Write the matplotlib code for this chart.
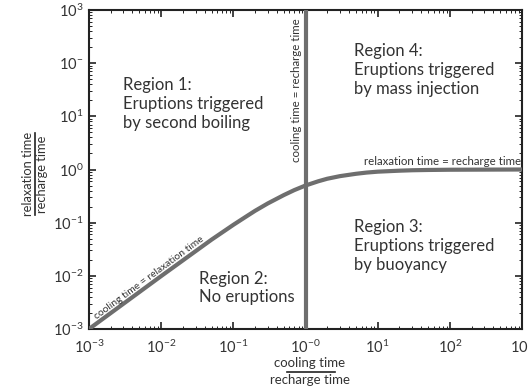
import numpy as np
import matplotlib
matplotlib.use("Agg")
import matplotlib.pyplot as plt

plt.rcParams['font.family'] = ['Lato', 'DejaVu Sans']
plt.rcParams['mathtext.fontset'] = 'custom'
plt.rcParams['mathtext.rm'] = 'Lato'
plt.rcParams['mathtext.it'] = 'Lato:italic'
plt.rcParams['font.size'] = 10.5

# boundary curve: cooling time = relaxation time, levelling off at relaxation = recharge
curve_x = [1e-3, 1e-2, 0.05, 0.1, 0.15, 0.2, 0.3, 0.5, 0.7, 1.0, 1.5, 2.0, 3.0,
           5.0, 7.0, 10.0, 20.0, 30.0, 50.0, 100.0, 1000.0]
curve_y = [1e-3, 0.0099, 0.048, 0.091, 0.13, 0.167, 0.23, 0.33, 0.41, 0.5, 0.6,
           0.67, 0.75, 0.83, 0.875, 0.91, 0.95, 0.968, 0.98, 0.99, 1.0]

# vertical boundary: cooling time = recharge time
vline_x = 1.0

xticks = [1e-3, 1e-2, 1e-1, 1e0, 1e1, 1e2, 1e3]
xticklabels = [r'$10^{-3}$', r'$10^{-2}$', r'$10^{-1}$', r'$10^{-0}$',
               r'$10^{1}$', r'$10^{2}$', r'$10^{3}$']
yticks = [1e-3, 1e-2, 1e-1, 1e0, 1e1, 1e2, 1e3]
yticklabels = [r'$10^{-3}$', r'$10^{-2}$', r'$10^{-1}$', r'$10^{0}$',
               r'$10^{1}$', r'$10^{-}$', r'$10^{3}$']

regions = [
    (10**-2.53, 10**1.74, "Region 1:\nEruptions triggered\nby second boiling"),
    (10**-1.47, 10**-1.9, "Region 2:\nNo eruptions"),
    (10**0.667, 10**-0.93, "Region 3:\nEruptions triggered\nby buoyancy"),
    (10**0.667, 10**2.38, "Region 4:\nEruptions triggered\nby mass injection"),
]

grey = '#6e6e6e'
dark = '#222222'
txtc = '#333333'

fig = plt.figure(figsize=(5.28, 3.90), dpi=100)
ax = fig.add_axes([89/528, 61/390, 433/528, 319/390])
ax.set_xscale('log')
ax.set_yscale('log')
ax.set_xlim(1e-3, 1e3)
ax.set_ylim(1e-3, 1e3)

ax.plot(curve_x, curve_y, color=grey, lw=3.0, solid_capstyle='butt', zorder=3)
ax.axvline(vline_x, color=grey, lw=3.0, zorder=3)

ax.set_xticks(xticks)
ax.set_xticklabels(xticklabels)
ax.set_yticks(yticks)
ax.set_yticklabels(yticklabels)
ax.tick_params(which='both', direction='in', top=True, right=True, colors=dark,
               labelcolor=txtc, labelsize=10.5)
ax.tick_params(which='major', length=5, width=1.2)
ax.tick_params(which='minor', length=2.5, width=0.7)
ax.tick_params(axis='x', pad=7)
ax.tick_params(axis='y', pad=4)
for s in ax.spines.values():
    s.set_linewidth(1.5)
    s.set_color(dark)

for x, y, txt in regions:
    ax.text(x, y, txt, ha='left', va='top', fontsize=12, color=txtc,
            linespacing=1.22)

# line labels
fig.canvas.draw()
p0 = ax.transData.transform((1e-3, 1e-3))
p1 = ax.transData.transform((1e-1, 1e-1))
ang = np.degrees(np.arctan2(p1[1] - p0[1], p1[0] - p0[0]))
ax.text(1.35e-3, 1.42e-3, "cooling time = relaxation time", rotation=ang,
        rotation_mode='anchor', ha='left', va='bottom', fontsize=7.4,
        color=txtc)
ax.text(0.9, 31, "cooling time = recharge time", rotation=90, ha='right',
        va='center', fontsize=8.3, color=txtc)
ax.text(985, 1.12, "relaxation time = recharge time", ha='right', va='bottom',
        fontsize=8.3, color=txtc)

# axis labels as fractions
fig.text(310/528, 1 - 367/390, "cooling time", ha='center', va='baseline',
         fontsize=9.5, color=txtc)
fig.text(310/528, 1 - 384/390, "recharge time", ha='center', va='baseline',
         fontsize=9.5, color=txtc)
fig.add_artist(plt.Line2D([287/528, 335/528], [1 - 372/390, 1 - 372/390],
                          transform=fig.transFigure, color=dark, lw=1.2))

fig.text(32/528, 1 - 174/390, "relaxation time", ha='center', va='baseline',
         rotation=90, rotation_mode='anchor', fontsize=9.3, color=txtc)
fig.text(46/528, 1 - 174/390, "recharge time", ha='center', va='baseline',
         rotation=90, rotation_mode='anchor', fontsize=9.3, color=txtc)
fig.add_artist(plt.Line2D([34.5/528, 34.5/528], [1 - 133/390, 1 - 215/390],
                          transform=fig.transFigure, color=dark, lw=1.2))

fig.savefig("out.png", dpi=100)
